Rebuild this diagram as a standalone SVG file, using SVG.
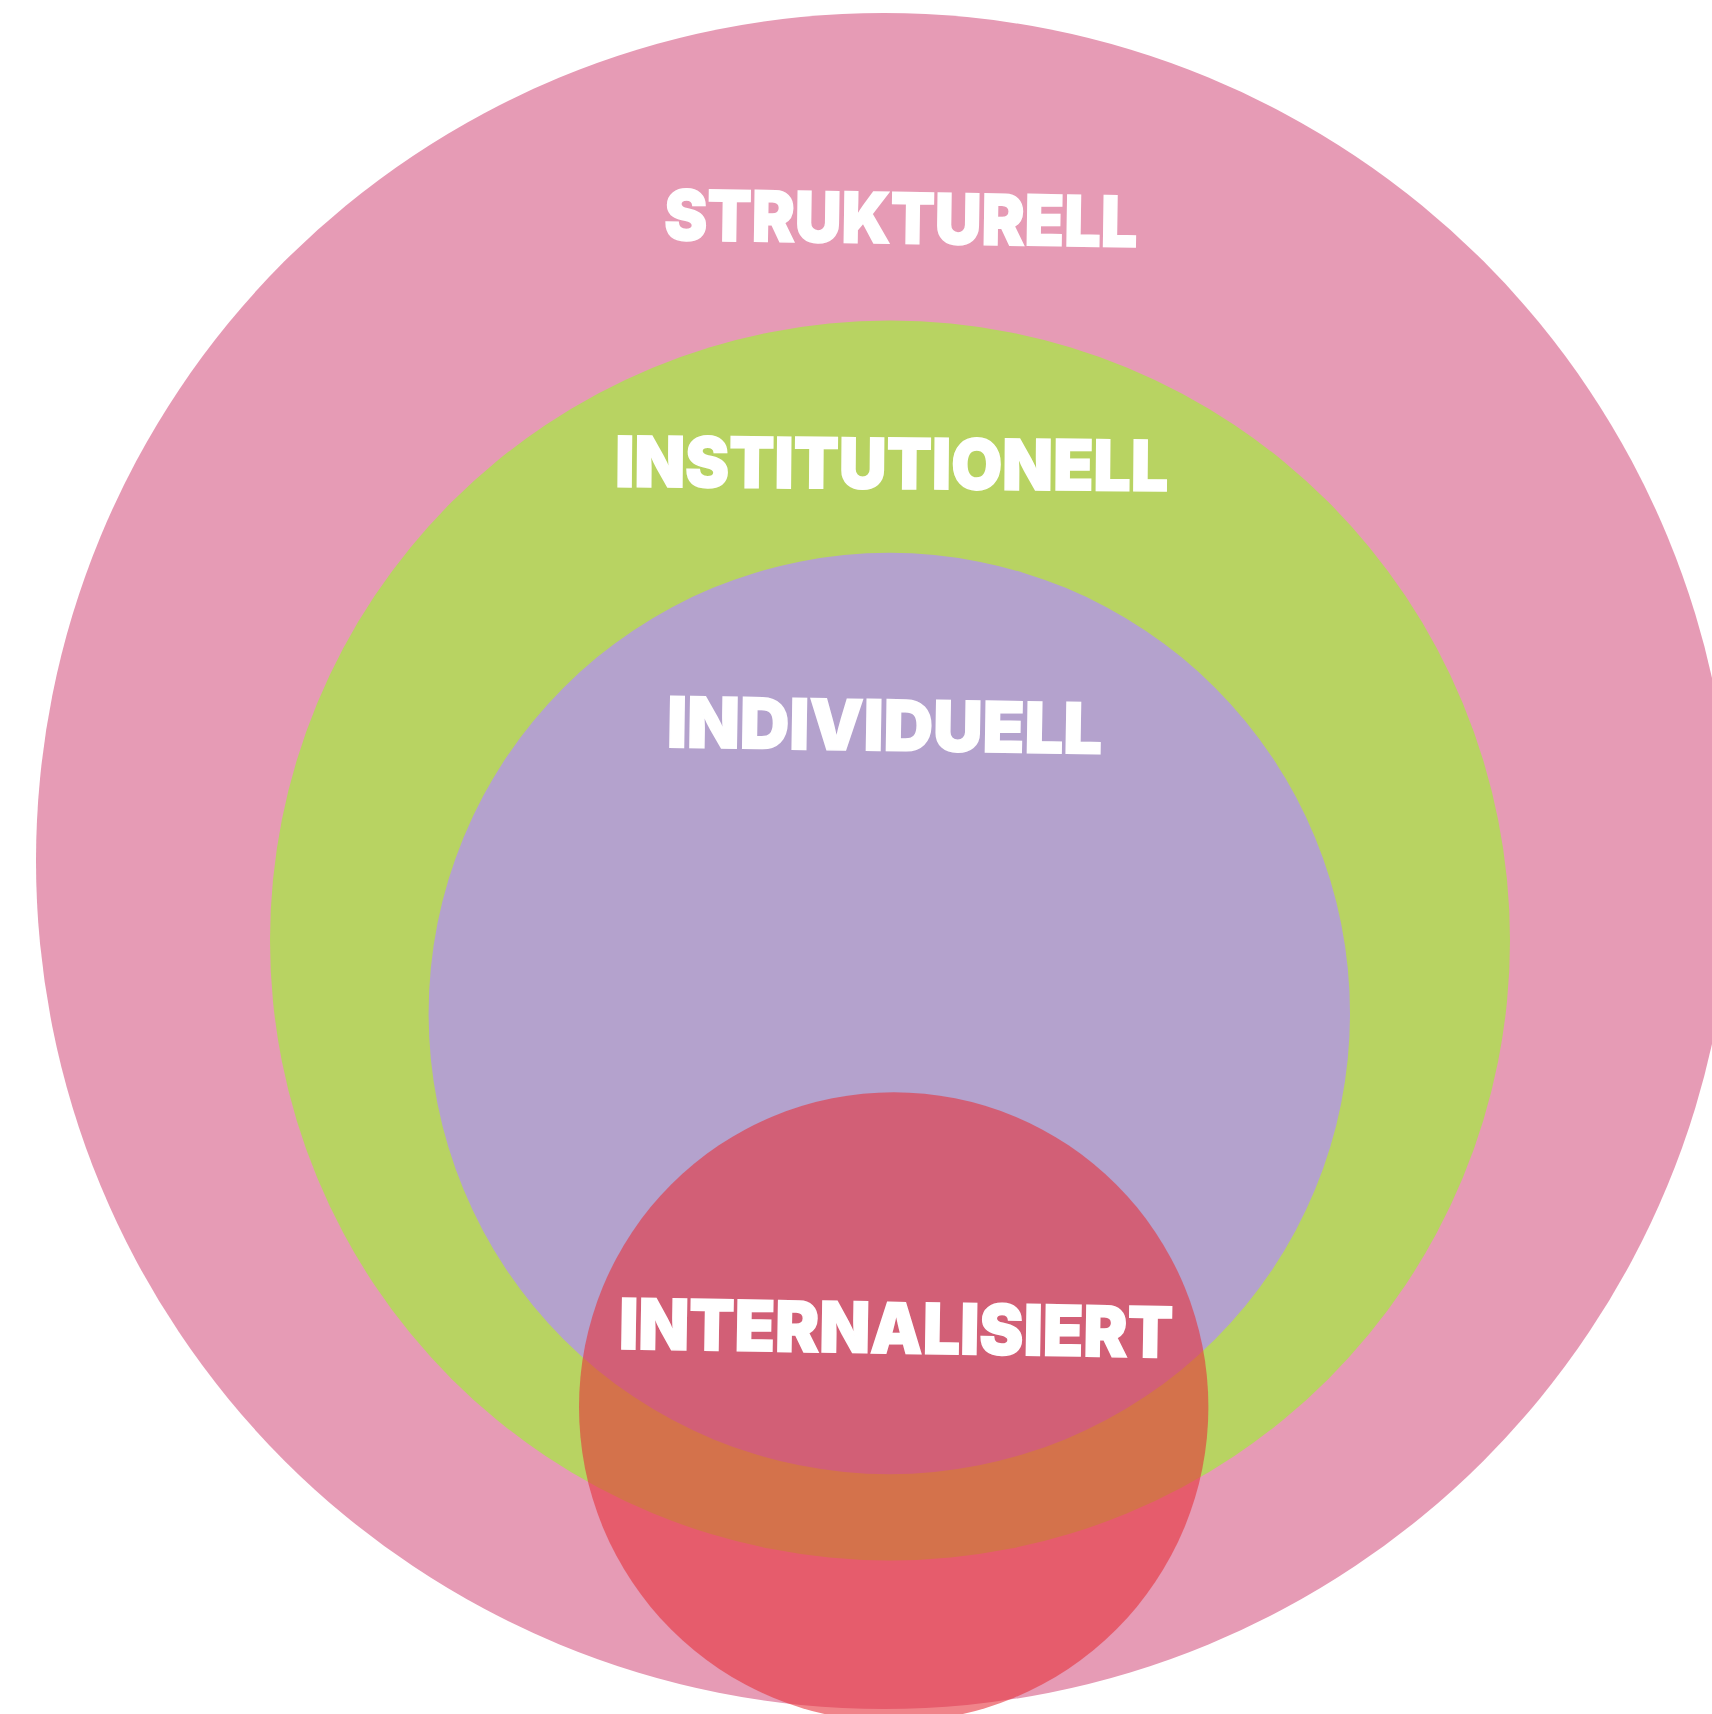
<svg xmlns="http://www.w3.org/2000/svg" width="1712" height="1714" viewBox="0 0 1712 1714">
  <style>
    .lbl { font-family: Inter, Lato, "Liberation Sans", sans-serif; font-weight: 900; font-size: 70px; fill: #ffffff; stroke: #ffffff; stroke-width: 1.5px; text-anchor: middle; }
  </style>
  <rect width="1712" height="1714" fill="#ffffff"/>
  <g id="strukturell">
    <circle cx="884" cy="861" r="848" fill="#E69BB5"/>
    <text class="lbl" x="900.5" y="243.5" textLength="473" lengthAdjust="spacingAndGlyphs" transform="rotate(0.85 900.5 243.5)">STRUKTURELL</text>
  </g>
  <g id="institutionell">
    <circle cx="890" cy="940.5" r="620" fill="#B8D362"/>
    <text class="lbl" x="891.5" y="488.8" textLength="553" lengthAdjust="spacingAndGlyphs" transform="rotate(0.45 891.5 488.8)">INSTITUTIONELL</text>
  </g>
  <g id="individuell">
    <circle cx="889.3" cy="1013.5" r="460.7" fill="#B4A2CD"/>
    <text class="lbl" x="884.2" y="750.6" textLength="435" lengthAdjust="spacingAndGlyphs" transform="rotate(0.88 884.2 750.6)">INDIVIDUELL</text>
  </g>
  <g id="internalisiert">
    <circle cx="893.7" cy="1407" r="314.7" fill="#E6323C" fill-opacity="0.6"/>
    <text class="lbl" x="895.6" y="1353.3" textLength="554" lengthAdjust="spacingAndGlyphs" transform="rotate(0.9 895.6 1353.3)">INTERNALISIERT</text>
  </g>
  <g id="connectors"/>
</svg>
